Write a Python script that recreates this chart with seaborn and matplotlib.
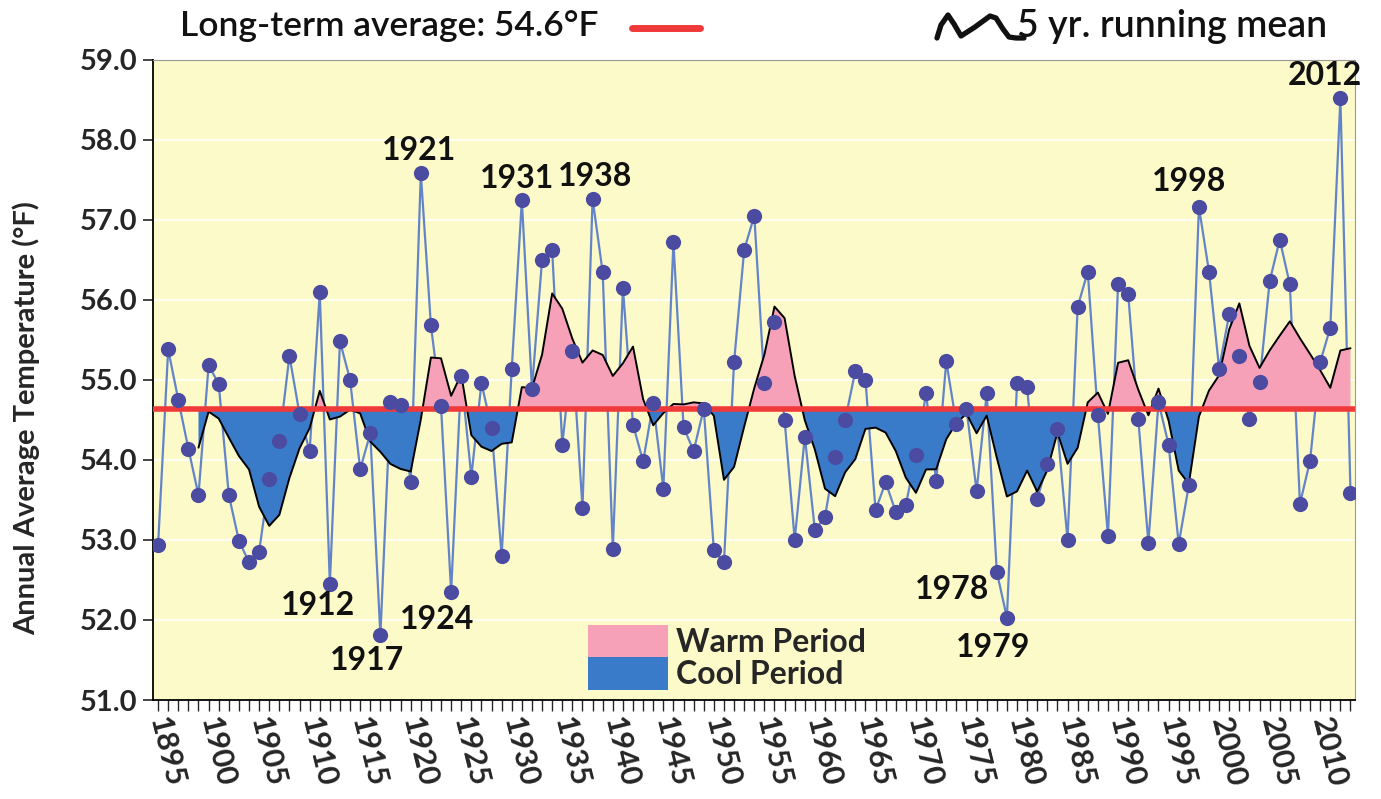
import numpy as np
import pandas as pd
import matplotlib
matplotlib.use("Agg")
import matplotlib.pyplot as plt
import seaborn as sns
from matplotlib.patches import Patch
from matplotlib.lines import Line2D
from matplotlib.ticker import MultipleLocator, FormatStrFormatter

# ---------------- data ----------------
years = list(range(1895, 2014))
temps = [
    52.93, 55.38, 54.75, 54.14, 53.56, 55.18, 54.95, 53.56, 52.99, 52.72,   # 1895-1904
    52.85, 53.76, 54.24, 55.30, 54.57, 54.11, 56.09, 52.45, 55.48, 55.00,   # 1905-1914
    53.88, 54.33, 51.81, 54.72, 54.69, 53.72, 57.58, 55.68, 54.67, 52.35,   # 1915-1924
    55.05, 53.79, 54.96, 54.40, 52.80, 55.14, 57.24, 54.89, 56.50, 56.62,   # 1925-1934
    54.19, 55.36, 53.40, 57.26, 56.34, 52.88, 56.15, 54.44, 53.98, 54.71,   # 1935-1944
    53.64, 56.72, 54.41, 54.11, 54.64, 52.87, 52.72, 55.22, 56.62, 57.05,   # 1945-1954
    54.96, 55.72, 54.50, 53.00, 54.29, 53.12, 53.29, 54.03, 54.50, 55.11,   # 1955-1964
    55.00, 53.37, 53.72, 53.35, 53.44, 54.06, 54.83, 53.73, 55.23, 54.45,   # 1965-1974
    54.64, 53.61, 54.83, 52.60, 52.03, 54.96, 54.91, 53.51, 53.95, 54.38,   # 1975-1984
    53.00, 55.91, 56.35, 54.56, 53.05, 56.19, 56.07, 54.51, 52.96, 54.72,   # 1985-1994
    54.19, 52.95, 53.68, 57.16, 56.35, 55.14, 55.82, 55.30, 54.51, 54.97,   # 1995-2004
    56.23, 56.75, 56.19, 53.45, 53.99, 55.22, 55.65, 58.52, 53.59,          # 2005-2013
]
long_term_avg = 54.64
running_window = 5
labeled_years = [1921, 1931, 1938, 1998, 2012, 1912, 1917, 1924, 1978, 1979]
y_ticks = [51.0, 52.0, 53.0, 54.0, 55.0, 56.0, 57.0, 58.0, 59.0]

df = pd.DataFrame({"year": years, "temp": temps})
df["mean5"] = df["temp"].rolling(running_window).mean()
rm = df.dropna(subset=["mean5"])

# ---------------- style ----------------
BG = "#FCFAC8"
PINK = "#F7A1B9"
BLUE = "#3A7BC9"
DOT = "#4B4BA2"
LINE = "#6384C8"
RED = "#F03A3A"

sns.set_style("white")
plt.rcParams["font.family"] = ["Lato", "DejaVu Sans"]

fig = plt.figure(figsize=(13.81, 7.99), dpi=100)
ax = fig.add_axes([0.1108, 0.1239, 0.8704, 0.8016])
ax.set_facecolor(BG)

# gridlines
ax.yaxis.grid(True, color="white", lw=1.2, zorder=0)
ax.set_axisbelow(True)

# raw data line (under fill)
sns.lineplot(data=df, x="year", y="temp", color=LINE, lw=1.6, ax=ax, zorder=2)

# warm / cool fills between running mean and the long-term average
ax.fill_between(rm["year"], rm["mean5"], long_term_avg,
                where=rm["mean5"] >= long_term_avg, interpolate=True,
                color=PINK, lw=0, zorder=3)
ax.fill_between(rm["year"], rm["mean5"], long_term_avg,
                where=rm["mean5"] < long_term_avg, interpolate=True,
                color=BLUE, lw=0, zorder=3)

# running mean line
sns.lineplot(data=rm, x="year", y="mean5", color="black", lw=1.4, ax=ax, zorder=4)

# long-term average
ax.axhline(long_term_avg, color=RED, lw=4, zorder=5)

# points
sns.scatterplot(data=df, x="year", y="temp", color=DOT, s=120, edgecolor=DOT,
                linewidth=0, ax=ax, zorder=6)

# annotations of notable years (offsets in pixels)
label_offsets = {
    1921: (-2, 23), 1931: (-5, 22), 1938: (2, 22), 1998: (-10, 25), 2012: (-16, 22),
    1912: (-12, -22), 1917: (-13, -25), 1924: (-14, -28), 1978: (-45, -18), 1979: (-14, -30),
}
for yr in labeled_years:
    val = df.loc[df["year"] == yr, "temp"].iloc[0]
    ax.annotate(str(yr), xy=(yr, val), xytext=label_offsets[yr], textcoords="offset pixels",
                ha="center", va="center", fontsize=23, fontweight="bold", color="#111111",
                zorder=7)

# axes limits / ticks
ax.set_xlim(1894.5, 2013.45)
ax.set_ylim(51.0, 59.0)
ax.set_yticks(y_ticks)
ax.yaxis.set_major_formatter(FormatStrFormatter("%.1f"))
ax.xaxis.set_minor_locator(MultipleLocator(1))
ax.set_xticks(list(range(1895, 2011, 5)))
ax.tick_params(axis="y", which="major", direction="out", length=7, width=1.2, pad=4,
               labelsize=21, left=True)
ax.tick_params(axis="x", which="both", direction="out", length=8, width=1.0, bottom=True)
for lab in ax.get_yticklabels():
    lab.set_fontweight("bold")
for lab in ax.get_xticklabels():
    lab.set_fontweight("bold")
    lab.set_fontsize(22)
    lab.set_rotation(-76)
    lab.set_rotation_mode("anchor")
    lab.set_ha("left")
    lab.set_va("center")
ax.tick_params(axis="x", which="major", pad=5)

for s in ["left", "bottom"]:
    ax.spines[s].set_color("black")
    ax.spines[s].set_linewidth(1.3)
for s in ["top", "right"]:
    ax.spines[s].set_color("#999999")
    ax.spines[s].set_linewidth(0.8)

ax.set_xlabel("")
ax.set_ylabel("Annual Average Temperature (°F)", fontsize=21, fontweight="bold")
ax.yaxis.set_label_coords(-0.094, 0.44)

# warm/cool legend
handles = [Patch(facecolor=PINK, edgecolor="none", label="Warm Period"),
           Patch(facecolor=BLUE, edgecolor="none", label="Cool Period")]
leg = ax.legend(handles=handles, loc="lower left", bbox_to_anchor=(0.362, 0.016),
                frameon=False, handlelength=2.5, handleheight=1.18, labelspacing=0.0,
                handletextpad=0.25, borderpad=0, borderaxespad=0,
                prop={"size": 23, "weight": "bold"})

# header
fig.text(180 / 1381, 1 - 26 / 799, "Long-term average: 54.6°F", ha="left", va="center",
         fontsize=25.5, fontweight="semibold", color="#111111")
fig.add_artist(Line2D([632 / 1381, 700 / 1381], [1 - 28 / 799, 1 - 28 / 799],
                      color=RED, lw=5, transform=fig.transFigure))
fig.text(1017 / 1381, 1 - 26 / 799, "5 yr. running mean", ha="left", va="center",
         fontsize=27, fontweight="semibold", color="#111111")
# hand-drawn style squiggle icon for the running mean
icon_x = [937, 941, 948, 954, 961, 975, 990, 996, 1003, 1009, 1016, 1024]
icon_y = [38, 25, 15, 24, 36, 27, 16, 18, 29, 37, 38, 38]
fig.add_artist(Line2D([v / 1381 for v in icon_x], [1 - v / 799 for v in icon_y],
                      color="#111111", lw=3.8, solid_capstyle="round",
                      solid_joinstyle="round", transform=fig.transFigure))

fig.savefig("out.png", dpi=100, facecolor="white")
